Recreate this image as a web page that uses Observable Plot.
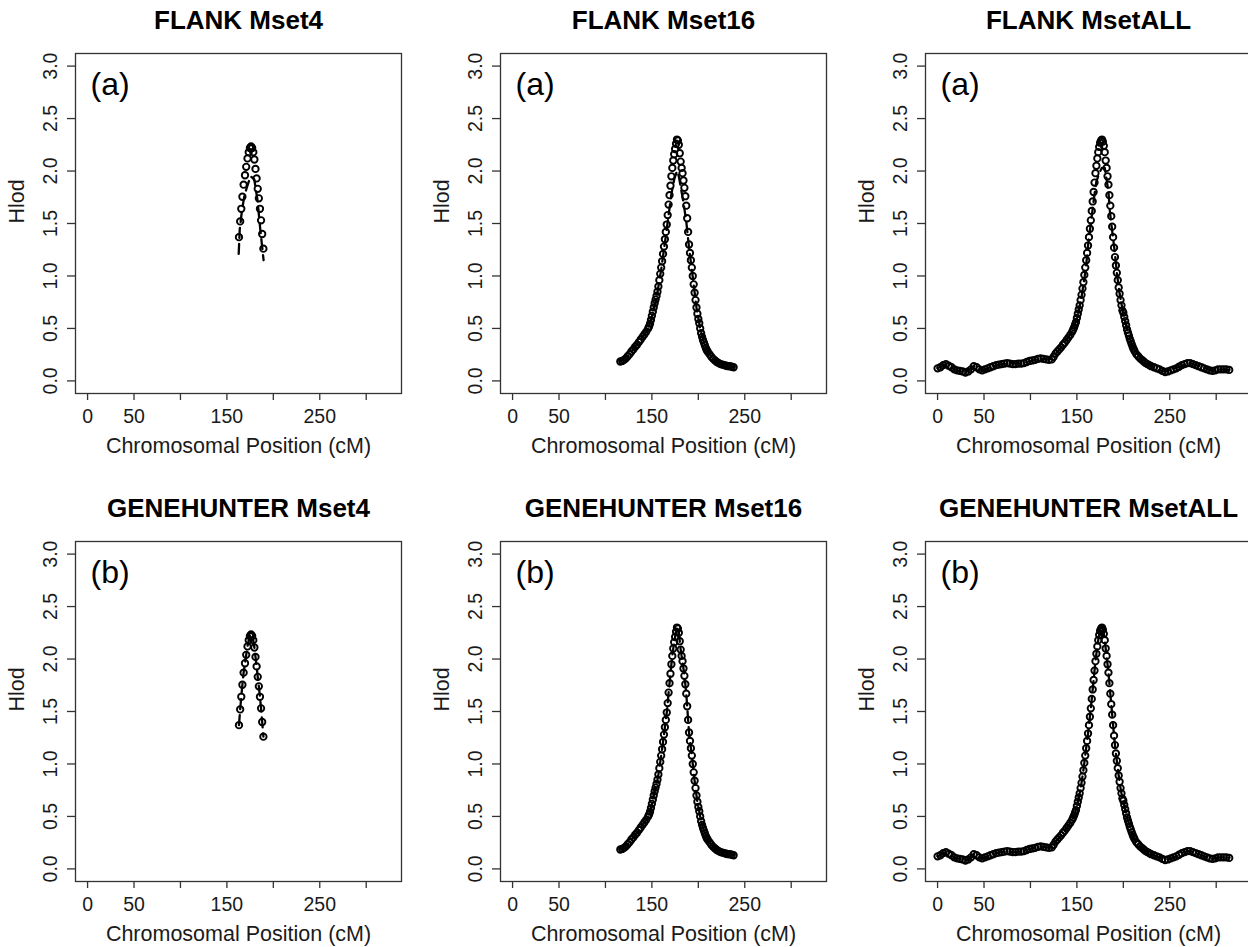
<!DOCTYPE html>
<html><head><meta charset="utf-8">
<script src="https://cdn.jsdelivr.net/npm/d3@7"></script>
<script src="https://cdn.jsdelivr.net/npm/@observablehq/plot@0.6"></script>
<style>
html,body{margin:0;padding:0;background:#fff;overflow:hidden;}
#fig{position:relative;width:1248px;height:947px;overflow:hidden;background:#fff;}
.panel{position:absolute;}
</style></head><body><div id="fig"></div>
<script>
// ---- axis ticks / labels ----
const xTicks = [0, 50, 100, 150, 200, 250, 300];
const xTickLabels = ["0", "50", "", "150", "", "250", ""];
const yTicks = [0, 0.5, 1, 1.5, 2, 2.5, 3];
const xLabel = "Chromosomal Position (cM)";
const yLabel = "Hlod";
const titles = ["FLANK Mset4", "FLANK Mset16", "FLANK MsetALL", "GENEHUNTER Mset4", "GENEHUNTER Mset16", "GENEHUNTER MsetALL"];
const tags = ["(a)", "(b)"];

// ---- Mset4 : points (circles) ----
const pos4 = [163,164.3,165.5,166.7,168,169.5,170.8,172.2,173.5,174.8,176,177.2,178.4,179.6,180.8,182,183.2,184.4,185.6,186.8,188,189.3];
const hlod4 = [1.37,1.52,1.64,1.755,1.87,1.96,2.04,2.12,2.18,2.22,2.235,2.22,2.18,2.11,2.02,1.93,1.83,1.74,1.64,1.53,1.40,1.26];
// FLANK Mset4 (dashed line)
const flankPos4 = [162.7,163.8,166.3,168.8,171.7,175.5,179.5,183,186,189.5];
const flank4 = [1.21,1.44,1.63,1.76,1.85,1.95,1.92,1.72,1.44,1.15];

// ---- Mset16 : points ----
const pos16 = [116,118,120,122,124,126,128,130,132,134,136,138,140,142,144,146,
 147,148,149,150,151,152,153,154,155,156,157,158,159,160,161,162,163,164,165,166,
 167,168,169,170,171,172,173,174,175,176,177,178,179,180,181,182,183,184,185,186,
 187,188,189,190,191,192,193,194,195,196,197,198,199,200,201,202,203,204,205,206,
 207,208,209,210,212,214,216,218,220,222,224,226,228,230,232,234,236,238];
const hlod16 = [0.185,0.19,0.20,0.215,0.235,0.255,0.28,0.30,0.325,0.345,0.37,0.395,0.42,0.445,0.47,0.50,
 0.52,0.545,0.58,0.62,0.66,0.70,0.74,0.775,0.81,0.85,0.90,0.96,1.02,1.08,1.14,1.21,1.28,1.35,1.42,1.49,
 1.58,1.68,1.77,1.86,1.95,2.03,2.10,2.16,2.21,2.26,2.30,2.29,2.25,2.17,2.09,2.03,1.98,1.91,1.84,1.76,
 1.67,1.55,1.42,1.30,1.22,1.15,1.08,1.00,0.92,0.84,0.77,0.70,0.64,0.59,0.55,0.50,0.455,0.42,0.39,0.365,
 0.34,0.315,0.295,0.28,0.255,0.23,0.21,0.195,0.18,0.17,0.16,0.155,0.15,0.145,0.14,0.14,0.135,0.13];
// FLANK Mset16 (dashed line)
const flankPos16 = [116,124,132,140,146,150,155,160,165,168,171,174,177,179,181,184,187,190,194,198,202,206,210,216,222,230,238];
const flank16 = [0.185,0.235,0.325,0.42,0.50,0.61,0.79,1.06,1.38,1.58,1.78,1.92,2.00,1.95,1.85,1.70,1.52,1.27,0.99,0.70,0.50,0.365,0.28,0.21,0.17,0.145,0.13];

// ---- MsetALL : points ----
const posAll = [0,3,6,9,12,15,18,21,24,27,30,33,36,39,42,45,48,51,54,57,60,63,66,69,72,75,78,81,84,87,
 90,93,96,99,102,105,108,111,114,117,120,123,125,127,129,131,133,135,137,139,141,143,145,
 146,147,148,149,150,151,152,153,154,155,156,157,158,159,160,161,162,163,164,165,
 166,167,168,169,170,171,172,173,174,175,176,177,178,179,180,181,182,183,184,185,
 186,187,188,189,190,191,192,193,194,195,196,197,198,199,200,201,202,203,204,205,
 206,207,208,209,210,211,212,214,216,218,220,222,224,226,228,230,
 233,236,239,242,245,248,251,254,257,260,263,266,269,272,275,278,281,284,287,290,
 293,296,299,302,305,308,311,314];
const hlodAll = [0.12,0.13,0.15,0.16,0.145,0.13,0.11,0.10,0.095,0.09,0.08,0.09,0.11,0.14,0.13,0.11,0.10,0.11,0.12,0.13,
 0.14,0.15,0.155,0.16,0.165,0.17,0.165,0.16,0.16,0.165,0.165,0.17,0.18,0.19,0.195,0.20,0.21,0.215,0.21,0.205,0.20,0.205,
 0.23,0.26,0.28,0.30,0.32,0.345,0.365,0.39,0.415,0.44,0.47,
 0.49,0.51,0.535,0.56,0.60,0.64,0.68,0.72,0.77,0.82,0.88,0.94,1.01,1.08,1.15,1.22,1.29,1.37,1.45,1.53,
 1.62,1.71,1.80,1.89,1.98,2.05,2.12,2.18,2.23,2.27,2.29,2.30,2.28,2.24,2.18,2.10,2.03,1.95,1.87,1.77,
 1.67,1.57,1.47,1.37,1.27,1.18,1.10,1.03,0.96,0.89,0.83,0.77,0.72,0.67,0.65,0.61,0.57,0.53,0.49,0.46,
 0.43,0.40,0.375,0.35,0.325,0.305,0.285,0.255,0.235,0.215,0.20,0.185,0.17,0.16,0.15,0.14,
 0.13,0.12,0.11,0.095,0.085,0.09,0.10,0.11,0.12,0.135,0.15,0.16,0.17,0.17,0.16,0.15,0.14,0.13,0.12,0.11,
 0.10,0.095,0.10,0.11,0.11,0.11,0.11,0.105];
// FLANK MsetALL (dashed line)
const flankPosAll = [0,9,21,30,39,48,60,75,90,105,114,120,125,135,145,150,155,158,160,162,165,167,169,171,174,177,180,182,184,185.5,187,189,191,193,196,200,205,210,220,230,245,260,272,285,296,305,314];
const flankAll = [0.12,0.16,0.10,0.08,0.14,0.10,0.14,0.17,0.165,0.20,0.21,0.20,0.23,0.345,0.47,0.59,0.80,0.97,1.10,1.29,1.50,1.64,1.78,1.90,1.98,2.03,2.03,1.92,1.80,1.62,1.50,1.36,1.21,1.03,0.83,0.64,0.46,0.325,0.20,0.14,0.085,0.135,0.17,0.13,0.095,0.11,0.105];

// GENEHUNTER curves coincide with the circles
const ghPos4 = pos4, gh4 = hlod4, ghPos16 = pos16, gh16 = hlod16, ghPosAll = posAll, ghAll = hlodAll;

const table = (xs, ys) => xs.map((x, i) => ({x, y: ys[i]}));

const panels = [
  {title: titles[0], tag: tags[0], px: pos4, py: hlod4, lx: flankPos4, ly: flank4, col: 0, row: 0},
  {title: titles[1], tag: tags[0], px: pos16, py: hlod16, lx: flankPos16, ly: flank16, col: 1, row: 0},
  {title: titles[2], tag: tags[0], px: posAll, py: hlodAll, lx: flankPosAll, ly: flankAll, col: 2, row: 0},
  {title: titles[3], tag: tags[1], px: pos4, py: hlod4, lx: ghPos4, ly: gh4, col: 0, row: 1},
  {title: titles[4], tag: tags[1], px: pos16, py: hlod16, lx: ghPos16, ly: gh16, col: 1, row: 1},
  {title: titles[5], tag: tags[1], px: posAll, py: hlodAll, lx: ghPosAll, ly: ghAll, col: 2, row: 1}
];

const FONT = "'Liberation Sans', Arial, Helvetica, sans-serif";
const fig = document.getElementById("fig");

for (const p of panels) {
  const pts = table(p.px, p.py);
  const ln = table(p.lx, p.ly);
  const chart = Plot.plot({
    width: 425, height: 470,
    marginLeft: 75, marginRight: 24, marginTop: 53, marginBottom: 77,
    style: {fontFamily: FONT, background: "transparent", color: "#1a1a1a", overflow: "visible"},
    x: {domain: [-13, 338], axis: null},
    y: {domain: [-0.12, 3.12], axis: null},
    marks: [
      Plot.frame({stroke: "#333", strokeWidth: 1.3}),
      Plot.axisX({ticks: xTicks, tickFormat: d => xTickLabels[xTicks.indexOf(d)], tickSize: 7, tickPadding: 9, fontSize: 19.5, label: null, stroke: "#333", strokeWidth: 1.3}),
      Plot.axisY({ticks: yTicks, tickFormat: d => d.toFixed(1), tickRotate: -90, tickSize: 8, tickPadding: 11, fontSize: 19.5, label: null, stroke: "#333", strokeWidth: 1.3}),
      Plot.dot(pts, {x: "x", y: "y", r: 3.2, stroke: "#000", strokeWidth: 1.9, fill: "none"}),
      Plot.line(ln, {x: "x", y: "y", stroke: "#000", strokeWidth: 2.3, strokeDasharray: "10,6"}),
      Plot.text([p.title], {text: d => d, frameAnchor: "top", dy: -33, fontSize: 26, fontWeight: "bold", lineAnchor: "middle", fill: "#000"}),
      Plot.text([xLabel], {text: d => d, frameAnchor: "bottom", dy: 53, fontSize: 21.5, lineAnchor: "middle"}),
      Plot.text([yLabel], {text: d => d, frameAnchor: "left", dx: -58, rotate: -90, fontSize: 21.5, lineAnchor: "middle"}),
      Plot.text([p.tag], {text: d => d, frameAnchor: "top-left", dx: 15, dy: 31, fontSize: 32, textAnchor: "start", lineAnchor: "middle", fill: "#000"})
    ]
  });
  chart.classList.add("panel");
  chart.style.left = (p.col * 425) + "px";
  chart.style.top = (p.row * 488) + "px";
  fig.appendChild(chart);
}
</script></body></html>
